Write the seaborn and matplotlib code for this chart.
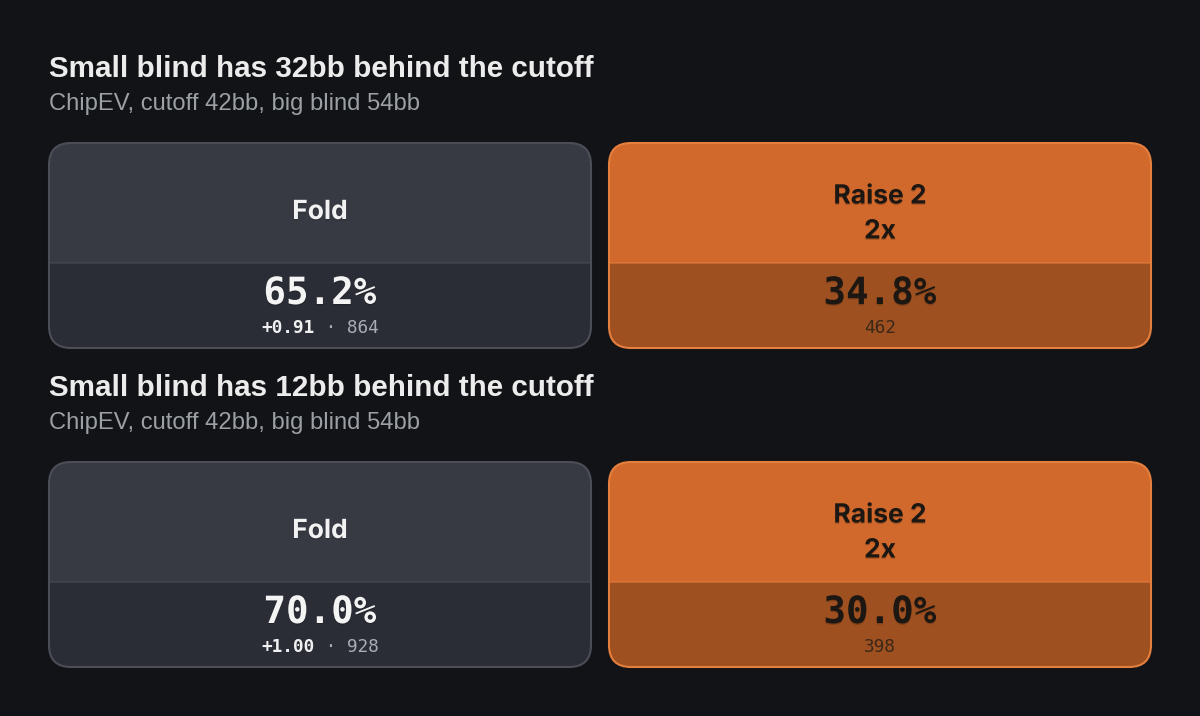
import numpy as np
import pandas as pd
import seaborn as sns
import matplotlib.pyplot as plt
from matplotlib.patches import FancyBboxPatch, Rectangle
import matplotlib.patheffects as pe

# Strategy data for the two spots
titles = ["Small blind has 32bb behind the cutoff",
          "Small blind has 12bb behind the cutoff"]
subtitles = ["ChipEV, cutoff 42bb, big blind 54bb",
             "ChipEV, cutoff 42bb, big blind 54bb"]
actions = ["Fold", "Raise 2\n2x"]
freq_32 = [65.2, 34.8]
combos_32 = [864, 462]
ev_32 = [0.91, None]
freq_12 = [70.0, 30.0]
combos_12 = [928, 398]
ev_12 = [1.00, None]

BG = "#121316"
sns.set_theme(style="dark", rc={"figure.facecolor": BG, "axes.facecolor": BG})
plt.rcParams['font.family'] = ['DejaVu Sans']

# card styles: (header, body, border, label color, value color, count color)
STYLES = {
    "Fold": ("#373a43", "#2a2d35", "#4b4e57", "#f2f2f2", "#f4f4f4", "#a9acb2"),
    "Raise 2\n2x": ("#d2692c", "#9e5020", "#e47f3e", "#1c1712", "#1c1712", "#3b2818"),
}


def draw_card(ax, x0, y0, w, h, split, action, freq, combos, ev):
    head, body, border, lab_c, val_c, cnt_c = STYLES[action]
    card = FancyBboxPatch((x0, y0), w, h, boxstyle="round,pad=0,rounding_size=22",
                          facecolor=head, edgecolor="none", zorder=1)
    ax.add_patch(card)
    low = Rectangle((x0, y0 + split), w, h - split, facecolor=body,
                    edgecolor="none", zorder=2)
    ax.add_patch(low)
    low.set_clip_path(card)
    ln, = ax.plot([x0, x0 + w], [y0 + split, y0 + split], color=border,
                  lw=1.2, alpha=0.6, zorder=3)
    ln.set_clip_path(card)
    ax.add_patch(FancyBboxPatch((x0, y0), w, h, boxstyle="round,pad=0,rounding_size=22",
                                facecolor="none", edgecolor=border, lw=1.5, zorder=4))
    cx = x0 + w / 2
    shadow = [pe.withSimplePatchShadow(offset=(0, -1), shadow_rgbFace="black", alpha=0.18)]
    n_lines = action.count("\n") + 1
    ax.text(cx, y0 + split / 2 + (9 if n_lines == 1 else 11), action, ha="center",
            va="center", fontsize=19, fontweight="bold", family=["Inter", "DejaVu Sans"],
            color=lab_c, linespacing=1.45, zorder=5, path_effects=shadow)
    ax.text(cx, y0 + split + 31, f"{freq:.1f}%", ha="center", va="center", fontsize=27,
            fontweight="bold", family=["DejaVu Sans Mono"], color=val_c, zorder=5,
            path_effects=shadow)
    sub_y = y0 + split + 65
    fs = 12.8
    if ev is not None:
        cw = 0.602 * fs * 100 / 72
        ev_s = f"+{ev:.2f}"
        rest = f" · {combos}"
        start = cx - (len(ev_s) + len(rest)) * cw / 2
        ax.text(start, sub_y, ev_s, ha="left", va="center", fontsize=fs, fontweight="bold",
                family=["DejaVu Sans Mono"], color="#f0f0f0", zorder=5)
        ax.text(start + len(ev_s) * cw, sub_y, rest, ha="left", va="center", fontsize=fs,
                family=["DejaVu Sans Mono"], color=cnt_c, zorder=5)
    else:
        ax.text(cx, sub_y, f"{combos}", ha="center", va="center", fontsize=fs,
                family=["DejaVu Sans Mono"], color=cnt_c, zorder=5)


fig = plt.figure(figsize=(12, 7.16), dpi=100)
ax = fig.add_axes([0, 0, 1, 1])
ax.set_xlim(0, 1200)
ax.set_ylim(716, 0)
ax.axis("off")

panels = [(freq_32, combos_32, ev_32), (freq_12, combos_12, ev_12)]
for i, (freqs, combos, evs) in enumerate(panels):
    top = 143 + i * 319
    ax.text(49, top - 74, titles[i], ha="left", va="center", fontsize=21.3,
            fontweight="bold", family=["Liberation Sans", "DejaVu Sans"], color="#ececec")
    ax.text(49, top - 39, subtitles[i], ha="left", va="center", fontsize=17.1,
            family=["Liberation Sans", "DejaVu Sans"], color="#9aa0a6")
    for j, act in enumerate(actions):
        draw_card(ax, 49 + j * 560, top, 542, 205, 120, act, freqs[j], combos[j], evs[j])

fig.savefig("out.png", dpi=100, facecolor=BG)
